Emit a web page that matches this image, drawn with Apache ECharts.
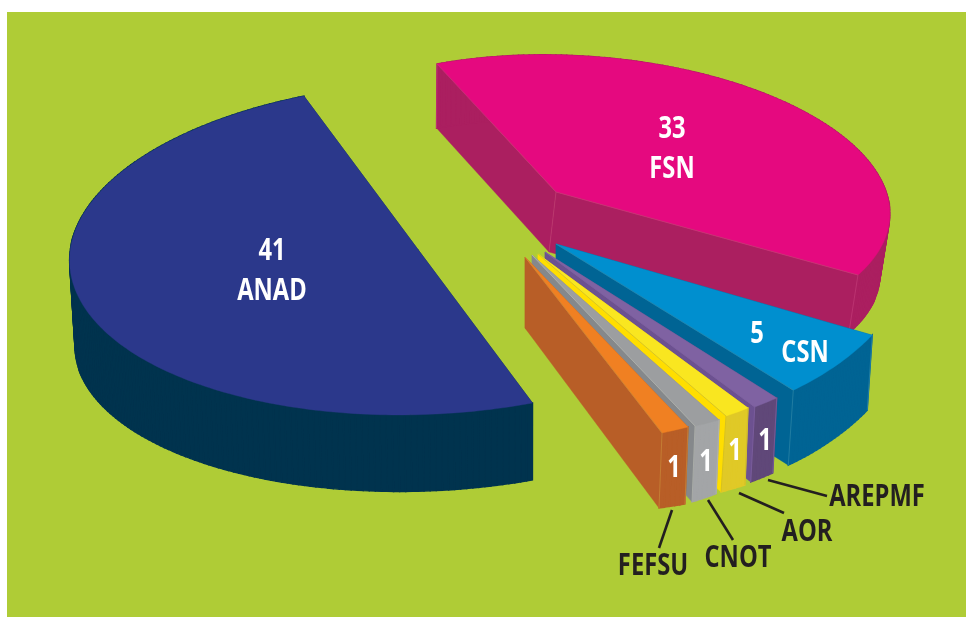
<!DOCTYPE html>
<html>
<head>
<meta charset="utf-8">
<style>
  html, body { margin: 0; padding: 0; background: #fff; }
  #chart { width: 973px; height: 617px; }
</style>
</head>
<body>
<div id="chart"></div>
<script src="https://cdn.jsdelivr.net/npm/echarts@6/dist/echarts.min.js"></script>
<script>
const categories = ["ANAD", "FSN", "CSN", "AREPMF", "AOR", "CNOT", "FEFSU"];
const values = [41, 33, 5, 1, 1, 1, 1];

const topColors = ["#2B388B", "#E5097F", "#008FCF", "#7F62A2", "#F9E620", "#9C9EA0", "#F08022"];
const radialColors = ["#00334E", "#AB1F60", "#006494", "#6C5190", "#FFDE00", "#85888B", "#B85E27"];
const outerColors = ["#00334E", "#AB1F60", "#006494", "#604879", "#E0C927", "#A3A5A7", "#B85E27"];
const seamColors = [null, "#C23B77", "#2E86A8", "#7F62A2", "#C9B82A", "#B5B7B0", "#C98A3A"];

const START_ANGLE = 72;
const FONT = '700 30px "Open Sans"';

// the perspective is not a true ellipse, so each slice has its own top and base rim
const rims = [
  { turn: 0.3, apex: [418, 249.5], apexBase: [418, 330], top: [424.6, 248.3, 355, 166.2, -12], base: [425.8, 334, 350.8, 157, -12] },
  { turn: -6.83, apex: [556, 192], apexBase: [549, 252], top: [578.4, 198, 311.4, 142.3, 16], base: [575, 258, 305, 137.7, 16] },
  { turn: 0, apex: [556, 244], apexBase: [556, 318], top: [618, 225, 303, 202.5, 0], base: [613, 300, 303, 202.5, 0] },
  { turn: 0, apex: [545, 252], apexBase: [545, 327], top: [576, 221, 347, 217, 0], base: [572, 296, 347, 217, 0] },
  { turn: 0, apex: [538, 254], apexBase: [538, 330], top: [577.4, 220.7, 331, 218.6, 0], base: [559, 321.3, 361, 191, 0] },
  { turn: 0, apex: [532, 255], apexBase: [532, 330], top: [562.4, 249.3, 349, 191, 0], base: [559.4, 266, 349, 255, 0] },
  { turn: 0, apex: [525, 257], apexBase: [525, 328], top: [549, 214.2, 365.7, 230, 0], base: [546, 362.5, 365.7, 153, 0] }
];

// text anchors
const valueLabelPos = [[272, 251], [672, 129], [757, 334], [765, 441], [735, 451], [706, 462], [674, 468]];
const nameLabelPos = [[272, 291], [672, 169], [805, 353], [877, 497], [807, 532], [738, 558], [653, 566]];
const nameColors = ["#fff", "#fff", "#fff", "#231F20", "#231F20", "#231F20", "#231F20"];
const leaders = [null, null, null, [768, 480, 827, 496], [739, 493, 784, 513], [708, 500, 733, 540], [672, 510, 659, 548]];

const total = values.reduce((a, b) => a + b, 0);

function rimPoint(rim, deg) {
  const t = (deg * Math.PI) / 180;
  const [cx, cy, rx, ry, skew] = rim;
  return [cx + rx * Math.cos(t), cy + ry * Math.sin(t) + skew * Math.cos(t)];
}

function rimArc(rim, from, to) {
  const pts = [];
  const steps = Math.max(4, Math.ceil(Math.abs(to - from)));
  for (let i = 0; i <= steps; i++) {
    pts.push(rimPoint(rim, from + ((to - from) * i) / steps));
  }
  return pts;
}

function face(points, fill, strokeWidth) {
  return { type: "polygon", shape: { points }, style: { fill, stroke: fill, lineWidth: strokeWidth || 0.4 } };
}

function seam(a, b, color) {
  return { type: "line", shape: { x1: a[0], y1: a[1], x2: b[0], y2: b[1] }, style: { stroke: color, lineWidth: 0.7 } };
}

function label(text, pos, fill) {
  return {
    type: "text",
    x: pos[0],
    y: pos[1],
    scaleX: 0.79,
    style: { text, font: FONT, fill, align: "center", verticalAlign: "middle" }
  };
}

function renderSlice(params, api) {
  const i = params.dataIndex;
  const value = api.value(0);
  const rim = rims[i];
  let before = 0;
  for (let k = 0; k < i; k++) before += values[k];
  const from = START_ANGLE + (before / total) * 360 + rim.turn;
  const to = from + (value / total) * 360;

  const topArc = rimArc(rim.top, from, to);
  const baseArc = rimArc(rim.base, from, to);
  const p0 = topArc[0];
  const p1 = topArc[topArc.length - 1];
  const b0 = baseArc[0];
  const b1 = baseArc[baseArc.length - 1];

  const children = [face([rim.apex, p0, b0, rim.apexBase], radialColors[i])];
  // outer wall as a strip of quads so the silhouette is the swept rim
  for (let k = 0; k < topArc.length - 1; k++) {
    children.push(face([topArc[k], topArc[k + 1], baseArc[k + 1], baseArc[k]], outerColors[i], 1.4));
  }
  children.push(face([rim.apex, p1, b1, rim.apexBase], radialColors[i]));
  children.push(face([rim.apex].concat(topArc), topColors[i]));

  if (seamColors[i]) {
    children.push(seam(p0, b0, seamColors[i]));
    children.push(seam(p1, b1, seamColors[i]));
    children.push(seam(rim.apex, p1, seamColors[i]));
  }
  if (i === 1) {
    children.push(seam(rim.apex, rim.apexBase, seamColors[i]));
    children.push(seam(rim.apex, p0, seamColors[i]));
  }
  if (leaders[i]) {
    const l = leaders[i];
    children.push({
      type: "line",
      shape: { x1: l[0], y1: l[1], x2: l[2], y2: l[3] },
      style: { stroke: "#231F20", lineWidth: 2.6 }
    });
  }
  children.push(label(String(value), valueLabelPos[i], "#fff"));
  children.push(label(categories[i], nameLabelPos[i], nameColors[i]));
  return { type: "group", children };
}

const myChart = echarts.init(document.getElementById("chart"), null, { renderer: "canvas" });

myChart.setOption({
  animation: false,
  backgroundColor: "#fff",
  graphic: [
    { type: "rect", z: -10, shape: { x: 7, y: 12, width: 959, height: 605 }, style: { fill: "#AFCC36" } }
  ],
  series: [
    {
      type: "custom",
      coordinateSystem: "none",
      renderItem: renderSlice,
      data: values.map((v) => [v])
    }
  ]
});
</script>
</body>
</html>
